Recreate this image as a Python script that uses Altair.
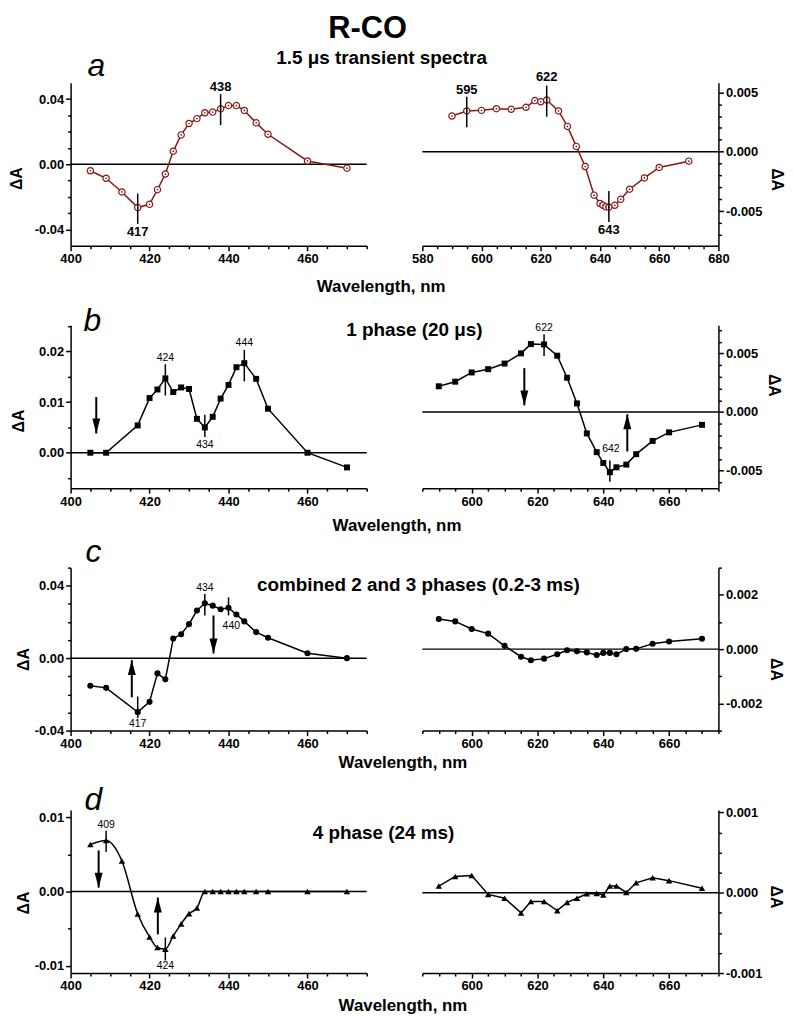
import altair as alt
import pandas as pd

FONT = "Liberation Sans"
RED = "#861818"

# ---------------- data ----------------
# panel a: 1.5 us transient spectra
A_L_X = [405, 409, 413, 417, 420, 422, 424, 426, 428, 430, 432, 434, 436, 438, 440, 442, 444, 447, 450, 460, 470]
A_L_Y = [-0.0040, -0.0086, -0.0170, -0.0266, -0.0246, -0.0156, -0.0060, 0.0080, 0.0180, 0.0250, 0.0280,
         0.0316, 0.0320, 0.0340, 0.0360, 0.0360, 0.0330, 0.0254, 0.0184, 0.0020, -0.0024]
A_R_X = [590, 595, 600, 605, 610, 615, 618, 620, 622, 626, 629, 632, 635, 638, 640, 641, 642, 643, 645, 647,
         650, 655, 660, 670]
A_R_Y = [0.0030, 0.00343, 0.00348, 0.00362, 0.00357, 0.00374, 0.0043, 0.0042, 0.00435, 0.00343, 0.00213,
         0.00045, -0.00124, -0.00365, -0.00435, -0.0045, -0.00463, -0.00466, -0.0045, -0.0040, -0.00315,
         -0.0022, -0.00132, -0.00079]

# panel b: 1 phase (20 us)
B_L_X = [405, 409, 417, 420, 422, 424, 426, 428, 430, 432, 434, 436, 438, 440, 442, 444, 447, 450, 460, 470]
B_L_Y = [0.0, 0.0, 0.0054, 0.0108, 0.0125, 0.0147, 0.0120, 0.0129, 0.0126, 0.0067, 0.0050, 0.0071, 0.0107,
         0.0134, 0.0169, 0.0177, 0.0146, 0.0087, 0.0, -0.0029]
B_R_X = [590, 595, 600, 605, 610, 615, 618, 622, 626, 629, 632, 635, 638, 640, 642, 644, 647, 650, 655, 660, 670]
B_R_Y = [0.00219, 0.00258, 0.00337, 0.00365, 0.00413, 0.0050, 0.00579, 0.00576, 0.0048, 0.00292, 0.00073,
         -0.00183, -0.00343, -0.00435, -0.00514, -0.00472, -0.00449, -0.0036, -0.00247, -0.00174, -0.0011]

# panel c: combined 2 and 3 phases
C_L_X = [405, 409, 417, 420, 422, 424, 426, 428, 430, 432, 434, 436, 438, 440, 442, 444, 447, 450, 460, 470]
C_L_Y = [-0.0152, -0.0164, -0.0298, -0.0241, -0.0084, -0.0117, 0.0108, 0.0132, 0.0188, 0.0263, 0.0303,
         0.0290, 0.0270, 0.0278, 0.0241, 0.0203, 0.0144, 0.0113, 0.0027, 0.0]
C_R_X = [590, 595, 600, 605, 610, 615, 618, 622, 626, 629, 632, 635, 638, 640, 642, 644, 647, 650, 655, 660, 670]
C_R_Y = [0.00111, 0.00102, 0.00074, 0.00057, 0.00012, -0.00028, -0.00041, -0.00035, -0.00019, -0.00004,
         -0.00008, -0.00012, -0.00022, -0.00014, -0.00014, -0.00019, 0.0, 0.00001, 0.00020, 0.00028, 0.00038]

# panel d: 4 phase (24 ms)
D_L_X = [405, 409, 413, 417, 420, 422, 424, 426, 428, 430, 432, 434, 436, 438, 440, 442, 444, 447, 450, 460, 470]
D_L_Y = [0.00636, 0.00689, 0.00413, -0.00302, -0.00613, -0.00756, -0.00778, -0.0060, -0.00436, -0.00298,
         -0.00222, 0.0, 0.0, 0.0, 0.0, 0.0, 0.0, 0.0, 0.0, 0.0, 0.0]
D_R_X = [590, 595, 600, 605, 610, 615, 618, 622, 626, 629, 632, 635, 638, 640, 642, 644, 647, 650, 655, 660, 670]
D_R_Y = [0.000084, 0.000203, 0.000215, -0.00002, -0.000068, -0.000251, -0.000108, -0.000108, -0.000223,
         -0.00012, -0.000068, -0.000012, -0.000008, -0.000028, 0.000084, 0.000084, 0.000004, 0.000124,
         0.000187, 0.000151, 0.000056]

# peak markers: (wavelength, y_top, y_bottom)
A_L_MARK = [(417, -0.018, -0.0366), (438, 0.043, 0.024)]
A_L_LAB = [(417, -0.0415, "417"), (438, 0.0476, "438")]
A_R_MARK = [(595, 0.00463, 0.00205), (622, 0.00556, 0.00295), (643, -0.0033, -0.0059)]
A_R_LAB = [(595, 0.0052, "595"), (622, 0.0063, "622"), (643, -0.0066, "643")]
B_L_MARK = [(424, 0.0175, 0.0113), (434, 0.0075, 0.0031), (444, 0.0203, 0.0141)]
B_L_LAB = [(424, 0.0187, "424"), (434, 0.0016, "434"), (444, 0.0216, "444")]
B_R_MARK = [(622, 0.00663, 0.00478), (642, -0.00413, -0.00596)]
B_R_LAB = [(622, 0.00716, "622"), (642.3, -0.0032, "642")]
C_L_MARK = [(417, -0.0212, -0.033), (434, 0.0354, 0.0236), (440, 0.0336, 0.0236)]
C_L_LAB = [(417, -0.0362, "417"), (434, 0.039, "434"), (440.7, 0.0175, "440")]
D_L_MARK = [(409, 0.00822, 0.00533), (424, -0.0062, -0.0093)]
D_L_LAB = [(409, 0.009, "409"), (424, -0.0100, "424")]

# arrows: (wavelength, start, tip)
B_L_DOWN = [(406.5, 0.011, 0.0038)]
B_R_DOWN = [(616, 0.00374, 0.00056)]
B_R_UP = [(647.3, -0.00337, -0.0002)]
C_L_UP = [(415.5, -0.0216, -0.0011)]
C_L_DOWN = [(436.2, 0.0236, 0.0026)]
D_L_DOWN = [(407.1, 0.00556, 0.00053)]
D_L_UP = [(422.1, -0.00578, -0.0008)]

TITLE = "R-CO"
SUBTITLES = ["1.5 μs transient spectra", "1 phase (20 μs)",
             "combined 2 and 3 phases (0.2-3 ms)", "4 phase (24 ms)"]
LETTERS = ["a", "b", "c", "d"]
XTITLE = "Wavelength, nm"
YTITLE = "ΔA"

W = 298
H = 164

P_DOWN = "M -0.8,-3 L 0.8,-3 L 0,0 Z"
P_UP = "M -0.8,3 L 0.8,3 L 0,0 Z"


def ticks(lo, step, n):
    return [round(lo + i * step, 7) + 0.0 for i in range(n)]


def axis(values, majors, fmt, orient, title, tx, ty, tbase):
    test = "indexof([" + ",".join(repr(m) for m in majors) + "], datum.value) >= 0"
    return alt.Axis(
        orient=orient, values=values, format=fmt,
        labelExpr=test + " ? replace(datum.label, '\u2212', '-') : ''",
        tickSize={"condition": {"test": test, "value": 5}, "value": 3},
        grid=False, domainColor="black", domainWidth=1.5, tickColor="black", tickWidth=1.5,
        labelFont=FONT, labelFontSize=13, labelFontWeight="bold", labelColor="black",
        labelPadding=2, labelFlush=False, labelOverlap=False,
        title=title, titleFont=FONT, titleFontWeight="bold", titleColor="black",
        titleFontSize=(17 if orient == "bottom" else 16),
        titleX=tx, titleY=ty, titleAlign="center", titleBaseline=tbase,
    )


def panel(xs, ys, xdom, ydom, xaxis, yaxis, mark, marks=(), labs=(), lab_style=None,
          downs=(), ups=(), interp="linear", extra=()):
    sx = alt.Scale(domain=xdom, nice=False, zero=False)
    sy = alt.Scale(domain=ydom, nice=False, zero=False)
    X = alt.X("x:Q", scale=sx, axis=xaxis)
    Y = alt.Y("y:Q", scale=sy, axis=yaxis)
    df = pd.DataFrame({"x": xs, "y": ys})
    color = RED if mark == "ocircle" else "black"
    layers = [
        alt.Chart(pd.DataFrame({"x": [xdom[0]], "y": [0.0]})).mark_rule(
            color="black", strokeWidth=1.5).encode(y=Y),
        alt.Chart(df).mark_line(color=color, strokeWidth=1.5, interpolate=interp).encode(x=X, y=Y),
    ]
    if mark == "ocircle":
        layers.append(alt.Chart(df).mark_point(shape="circle", size=40, filled=True, fill="white",
                                               stroke=RED, strokeWidth=1.2, opacity=1).encode(x=X, y=Y))
        layers.append(alt.Chart(df).mark_point(shape="circle", size=3, filled=True, color=RED,
                                               opacity=1).encode(x=X, y=Y))
    else:
        size = {"square": 36, "circle": 38, "triangle-up": 42}[mark]
        layers.append(alt.Chart(df).mark_point(shape=mark, size=size, filled=True, color="black",
                                               opacity=1).encode(x=X, y=Y))
    if marks:
        mdf = pd.DataFrame({"x": [m[0] for m in marks], "y": [m[1] for m in marks],
                            "y2": [m[2] for m in marks]})
        layers.append(alt.Chart(mdf).mark_rule(color="black", strokeWidth=1.5).encode(
            x=X, y=Y, y2="y2:Q"))
    if labs:
        ldf = pd.DataFrame({"x": [l[0] for l in labs], "y": [l[1] for l in labs],
                            "t": [l[2] for l in labs]})
        layers.append(alt.Chart(ldf).mark_text(font=FONT, baseline="middle", align="center",
                                               color="black", **lab_style).encode(x=X, y=Y, text="t:N"))
    for arr, path in ((downs, P_DOWN), (ups, P_UP)):
        if arr:
            adf = pd.DataFrame({"x": [a[0] for a in arr], "y": [a[1] for a in arr],
                                "y2": [a[2] for a in arr]})
            layers.append(alt.Chart(adf).mark_rule(color="black", strokeWidth=2).encode(
                x=X, y=Y, y2="y2:Q"))
            tdf = pd.DataFrame({"x": [a[0] for a in arr], "y": [a[2] for a in arr]})
            layers.append(alt.Chart(tdf).mark_point(shape=path, size=100, filled=True, color="black",
                                                    opacity=1, strokeWidth=0).encode(x=X, y=Y))
    for (txt, px, py, size, weight, style, align) in extra:
        layers.append(alt.Chart(pd.DataFrame({"t": [txt]})).mark_text(
            font=FONT, fontSize=size, fontWeight=weight, fontStyle=style, align=align,
            baseline="alphabetic", color="black").encode(
            text="t:N", x=alt.value(px), y=alt.value(py)))
    return alt.layer(*layers).properties(width=W, height=H)


LX = ticks(400, 5, 16)
LXM = [400, 420, 440, 460]
RX = ticks(585, 5, 19)
RXM = [600, 620, 640, 660]
AX_R = ticks(580, 5, 21)
AX_RM = [580, 600, 620, 640, 660, 680]

BIG = dict(fontSize=13, fontWeight="bold")
SMALL = dict(fontSize=10.5, fontWeight="normal")

# ---- row a ----
aL = panel(A_L_X, A_L_Y, [400, 475], [-0.05, 0.05],
           axis(LX, LXM, "d", "bottom", XTITLE, 312, 46, "alphabetic"),
           axis(ticks(-0.04, 0.01, 9), [-0.04, 0.0, 0.04], ".2f", "left", YTITLE, -54, 96, "middle"),
           "ocircle", A_L_MARK, A_L_LAB, BIG,
           extra=[(TITLE, 299, -45, 31, "bold", "normal", "center"),
                  (SUBTITLES[0], 313, -19, 19, "bold", "normal", "center"),
                  (LETTERS[0], 17, -7, 32, "normal", "italic", "left")])
aR = panel(A_R_X, A_R_Y, [580, 680], [-0.0079, 0.0058],
           axis(AX_R, AX_RM, "d", "bottom", "", 0, 0, "alphabetic"),
           axis(ticks(-0.007, 0.001, 13), [-0.005, 0.0, 0.005], ".3f", "right", YTITLE, 58, 97, "middle"),
           "ocircle", A_R_MARK, A_R_LAB, BIG)

# ---- row b ----
bL = panel(B_L_X, B_L_Y, [400, 475], [-0.007, 0.0252],
           axis(LX, LXM, "d", "bottom", XTITLE, 328, 43, "alphabetic"),
           axis(ticks(-0.005, 0.005, 7), [0.0, 0.01, 0.02], ".2f", "left", YTITLE, -52, 96, "middle"),
           "square", B_L_MARK, B_L_LAB, SMALL, downs=B_L_DOWN,
           extra=[(SUBTITLES[1], 346, 11, 19, "bold", "normal", "center"),
                  (LETTERS[1], 13, 6, 32, "normal", "italic", "left")])
bR = panel(B_R_X, B_R_Y, [585, 675], [-0.0065, 0.0074],
           axis(RX, RXM, "d", "bottom", "", 0, 0, "alphabetic"),
           axis(ticks(-0.006, 0.001, 14), [-0.005, 0.0, 0.005], ".3f", "right", YTITLE, 55, 60, "middle"),
           "square", B_R_MARK, B_R_LAB, SMALL, downs=B_R_DOWN, ups=B_R_UP)

# ---- row c ----
cL = panel(C_L_X, C_L_Y, [400, 475], [-0.04, 0.05],
           axis(LX, LXM, "d", "bottom", XTITLE, 334, 37, "alphabetic"),
           axis(ticks(-0.04, 0.01, 10), [-0.04, 0.0, 0.04], ".2f", "left", YTITLE, -47, 92, "middle"),
           "circle", C_L_MARK, C_L_LAB, SMALL, downs=C_L_DOWN, ups=C_L_UP,
           extra=[(SUBTITLES[2], 350, 24, 19, "bold", "normal", "center"),
                  (LETTERS[2], 15, -6, 32, "normal", "italic", "left")])
cR = panel(C_R_X, C_R_Y, [585, 675], [-0.003, 0.003],
           axis(RX, RXM, "d", "bottom", "", 0, 0, "alphabetic"),
           axis(ticks(-0.003, 0.001, 7), [-0.002, 0.0, 0.002], ".3f", "right", YTITLE, 57, 102, "middle"),
           "circle")

# ---- row d ----
dL = panel(D_L_X, D_L_Y, [400, 475], [-0.011, 0.011],
           axis(LX, LXM, "d", "bottom", XTITLE, 334, 38, "alphabetic"),
           axis(ticks(-0.01, 0.005, 5), [-0.01, 0.0, 0.01], ".2f", "left", YTITLE, -47, 93, "middle"),
           "triangle-up", D_L_MARK, D_L_LAB, SMALL, downs=D_L_DOWN, ups=D_L_UP, interp="monotone",
           extra=[(SUBTITLES[3], 315, 29, 19, "bold", "normal", "center"),
                  (LETTERS[3], 14, 0, 32, "normal", "italic", "left")])
dR = panel(D_R_X, D_R_Y, [585, 675], [-0.001, 0.00103],
           axis(RX, RXM, "d", "bottom", "", 0, 0, "alphabetic"),
           axis(ticks(-0.001, 0.00025, 9), [-0.001, 0.0, 0.001], ".3f", "right", YTITLE, 57, 87, "middle"),
           "triangle-up")

chart = alt.concat(aL, aR, bL, bR, cL, cR, dL, dR, columns=2,
                   spacing={"row": 80, "column": 56}, bounds="flush").properties(
    padding={"left": 0, "top": 1, "right": 0, "bottom": 0}
).configure_view(stroke="transparent")

chart.save("out.html", embed_options={"renderer": "svg", "actions": False})
